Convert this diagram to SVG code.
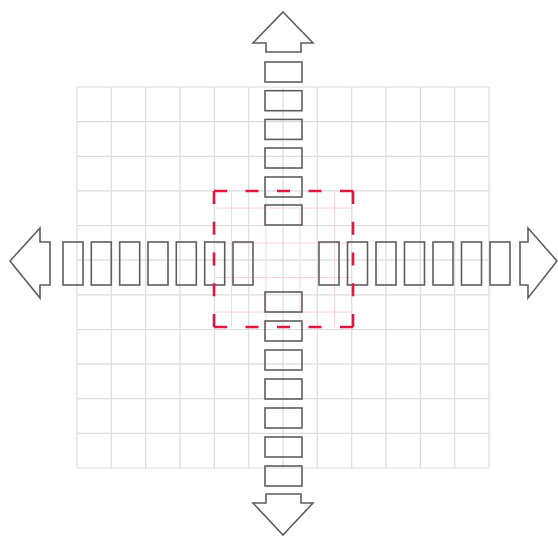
<svg xmlns="http://www.w3.org/2000/svg" width="558" height="538" viewBox="0 0 558 538">
<style>
.grid line{stroke:#dcdcdc;stroke-width:1.2}
.pink line{stroke:#f6d6dc;stroke-width:1}
.blk{fill:none;stroke:#5e5e5e;stroke-width:1.6}
.arr{fill:#fff;stroke:#5e5e5e;stroke-width:1.6;stroke-linejoin:miter}
.dash{fill:none;stroke:#e2163f;stroke-width:2.6}
.dh{stroke-dasharray:13 18.5}
.dv{stroke-dasharray:13 17.75}
</style>
<rect width="558" height="538" fill="#fff"/>
<g id="grid" class="grid">
<line x1="77" y1="87" x2="77" y2="468"/>
<line x1="111.3" y1="87" x2="111.3" y2="468"/>
<line x1="145.7" y1="87" x2="145.7" y2="468"/>
<line x1="180" y1="87" x2="180" y2="468"/>
<line x1="214.3" y1="87" x2="214.3" y2="468"/>
<line x1="248.7" y1="87" x2="248.7" y2="468"/>
<line x1="283" y1="87" x2="283" y2="468"/>
<line x1="317.3" y1="87" x2="317.3" y2="468"/>
<line x1="351.7" y1="87" x2="351.7" y2="468"/>
<line x1="386" y1="87" x2="386" y2="468"/>
<line x1="420.3" y1="87" x2="420.3" y2="468"/>
<line x1="454.7" y1="87" x2="454.7" y2="468"/>
<line x1="489" y1="87" x2="489" y2="468"/>
<line x1="77" y1="87" x2="489" y2="87"/>
<line x1="77" y1="121.6" x2="489" y2="121.6"/>
<line x1="77" y1="156.3" x2="489" y2="156.3"/>
<line x1="77" y1="190.9" x2="489" y2="190.9"/>
<line x1="77" y1="225.5" x2="489" y2="225.5"/>
<line x1="77" y1="260.2" x2="489" y2="260.2"/>
<line x1="77" y1="294.8" x2="489" y2="294.8"/>
<line x1="77" y1="329.5" x2="489" y2="329.5"/>
<line x1="77" y1="364.1" x2="489" y2="364.1"/>
<line x1="77" y1="398.7" x2="489" y2="398.7"/>
<line x1="77" y1="433.4" x2="489" y2="433.4"/>
<line x1="77" y1="468" x2="489" y2="468"/>
</g>
<g id="pink-grid" class="pink">
<line x1="231.5" y1="191" x2="231.5" y2="327"/>
<line x1="266" y1="191" x2="266" y2="327"/>
<line x1="300" y1="191" x2="300" y2="327"/>
<line x1="334.5" y1="191" x2="334.5" y2="327"/>
<line x1="214" y1="208" x2="353" y2="208"/>
<line x1="214" y1="243" x2="353" y2="243"/>
<line x1="214" y1="277.5" x2="353" y2="277.5"/>
<line x1="214" y1="312" x2="353" y2="312"/>
</g>
<g id="arrow-up"><path class="arr" d="M283,12 L313,43 L301,43 L301,52 L266,52 L266,43 L253,43 Z"/></g>
<g id="arrow-down"><path class="arr" d="M283,535 L313,503 L301,503 L301,494 L266,494 L266,503 L253,503 Z"/></g>
<g id="arrow-left"><path class="arr" d="M10,261 L40,228 L40,242 L50,242 L50,285 L40,285 L40,298 Z"/></g>
<g id="arrow-right"><path class="arr" d="M557,261 L528,228 L528,242 L520,242 L520,285 L528,285 L528,298 Z"/></g>
<g id="stack-up">
<rect class="blk" x="265" y="62" width="37" height="20"/>
<rect class="blk" x="265" y="90.7" width="37" height="20"/>
<rect class="blk" x="265" y="119.4" width="37" height="20"/>
<rect class="blk" x="265" y="148" width="37" height="20"/>
<rect class="blk" x="265" y="177" width="37" height="20"/>
<rect class="blk" x="265" y="205" width="37" height="20"/>
</g>
<g id="stack-down">
<rect class="blk" x="265" y="292" width="37" height="20"/>
<rect class="blk" x="265" y="321" width="37" height="20"/>
<rect class="blk" x="265" y="350" width="37" height="20"/>
<rect class="blk" x="265" y="379" width="37" height="20"/>
<rect class="blk" x="265" y="408" width="37" height="20"/>
<rect class="blk" x="265" y="437" width="37" height="20"/>
<rect class="blk" x="265" y="466" width="37" height="20"/>
</g>
<g id="stack-left">
<rect class="blk" x="63" y="242" width="20" height="43"/>
<rect class="blk" x="91.3" y="242" width="20" height="43"/>
<rect class="blk" x="119.7" y="242" width="20" height="43"/>
<rect class="blk" x="148" y="242" width="20" height="43"/>
<rect class="blk" x="176.3" y="242" width="20" height="43"/>
<rect class="blk" x="204.7" y="242" width="20" height="43"/>
<rect class="blk" x="233" y="242" width="20" height="43"/>
</g>
<g id="stack-right">
<rect class="blk" x="319" y="242" width="20" height="43"/>
<rect class="blk" x="347.5" y="242" width="20" height="43"/>
<rect class="blk" x="376" y="242" width="20" height="43"/>
<rect class="blk" x="404.5" y="242" width="20" height="43"/>
<rect class="blk" x="433" y="242" width="20" height="43"/>
<rect class="blk" x="461.5" y="242" width="20" height="43"/>
<rect class="blk" x="490" y="242" width="20" height="43"/>
</g>
<g id="focus-box" class="dash">
<line class="dh" x1="214" y1="191" x2="353" y2="191"/>
<line class="dh" x1="214" y1="327" x2="353" y2="327"/>
<line class="dv" x1="214" y1="191" x2="214" y2="327"/>
<line class="dv" x1="353" y1="191" x2="353" y2="327"/>
</g>
</svg>
